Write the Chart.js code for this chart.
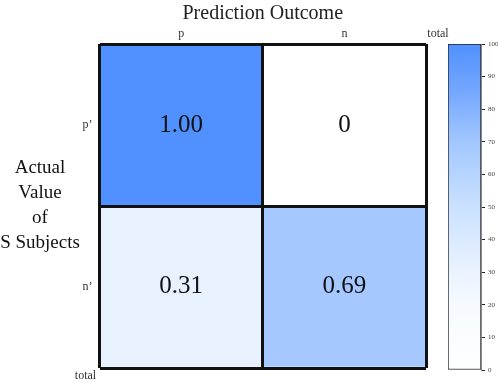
<!DOCTYPE html>
<html>
<head>
<meta charset="utf-8">
<script src="https://cdn.jsdelivr.net/npm/chart.js@4/dist/chart.umd.min.js"></script>
<style>
  html, body { margin: 0; padding: 0; background: #fff; }
  #wrap { position: relative; width: 498px; height: 383px; }
  #wrap canvas { position: absolute; left: 0; top: 0; }
</style>
</head>
<body>
<div id="wrap">
  <canvas id="matrix" width="498" height="383"></canvas>
  <canvas id="colorbar" width="498" height="383"></canvas>
</div>
<script>
// confusion matrix values
const predLabels = ["p", "n"]
const actualLabels = ["p’", "n’"]
const rowP = [1.00, 0]
const rowN = [0.31, 0.69]
const rows = [rowP, rowN]
const cbMin = 0
const cbMax = 100
const cbStep = 10

const FONT = "'Liberation Serif', 'Times New Roman', serif"

// colour map, white -> blue (position, r, g, b)
const cmap = [
  [0.0, 255, 255, 255],
  [0.2, 246, 250, 255],
  [0.3, 234, 243, 255],
  [0.5, 202, 225, 255],
  [0.7, 162, 199, 255],
  [0.85, 118, 168, 255],
  [1.0, 80, 144, 255],
]

function colorFor(v) {
  for (let i = 1; i < cmap.length; i++) {
    const a = cmap[i - 1], b = cmap[i]
    if (v <= b[0]) {
      const t = (v - a[0]) / (b[0] - a[0])
      const c = [1, 2, 3].map((k) => Math.round(a[k] + (b[k] - a[k]) * t))
      return `rgb(${c[0]}, ${c[1]}, ${c[2]})`
    }
  }
  const l = cmap[cmap.length - 1]
  return `rgb(${l[1]}, ${l[2]}, ${l[3]})`
}

function fmt(v) {
  return v === 0 ? "0" : v.toFixed(2)
}

// text that is not tied to an axis: cell values, row title, "total"
const matrixText = {
  id: "matrixText",
  afterDraw(chart) {
    const { ctx, chartArea } = chart
    ctx.save()
    ctx.fillStyle = "#111"
    ctx.textAlign = "center"
    ctx.textBaseline = "middle"
    ctx.font = `25px ${FONT}`
    rows.forEach((row, i) => {
      chart.getDatasetMeta(i).data.forEach((bar, j) => {
        ctx.fillText(fmt(row[j]), bar.x, (bar.y + bar.base) / 2)
      })
    })

    ctx.font = `19px ${FONT}`
    const lines = ["Actual", "Value", "of", "S Subjects"]
    const mid = (chartArea.top + chartArea.bottom) / 2
    lines.forEach((t, k) => {
      ctx.fillText(t, 40, mid + (k - 1.5) * 25)
    })

    ctx.fillStyle = "#333"
    ctx.font = `12px ${FONT}`
    ctx.fillText("total", chartArea.right + 12, chartArea.top - 10)
    ctx.fillText("total", chartArea.left - 14, chartArea.bottom + 8)
    ctx.restore()
  },
}

new Chart(document.getElementById("matrix"), {
  type: "bar",
  data: {
    labels: predLabels,
    datasets: [
      {
        label: actualLabels[0],
        data: rowP.map(() => [1, 2]),
        backgroundColor: rowP.map(colorFor),
      },
      {
        label: actualLabels[1],
        data: rowN.map(() => [0, 1]),
        backgroundColor: rowN.map(colorFor),
      },
    ],
  },
  options: {
    responsive: false,
    animation: false,
    grouped: false,
    barPercentage: 1,
    categoryPercentage: 1,
    borderWidth: 0,
    layout: { padding: { left: 0, right: 72, top: 0, bottom: 15 } },
    plugins: {
      legend: { display: false },
      tooltip: { enabled: false },
    },
    scales: {
      x: {
        position: "top",
        z: 1,
        grid: { z: 1, offset: true, color: "#111", lineWidth: 3, drawTicks: false },
        border: { display: false },
        ticks: { color: "#333", padding: 3, font: { family: FONT, size: 12 } },
        title: {
          display: true,
          text: "Prediction Outcome",
          color: "#222",
          padding: { top: 2, bottom: 0 },
          font: { family: FONT, size: 20 },
        },
        afterFit: (s) => { s.height = 44 },
      },
      y: {
        min: 0,
        max: 2,
        z: 1,
        afterBuildTicks: (s) => {
          s.ticks = [0, 0.5, 1, 1.5, 2].map((v) => ({ value: v }))
        },
        grid: {
          z: 1,
          color: "#111",
          lineWidth: (c) => (c.tick && Number.isInteger(c.tick.value) ? 3 : 0),
          drawTicks: false,
        },
        border: { display: false },
        ticks: {
          color: "#333",
          padding: 7,
          font: { family: FONT, size: 12 },
          callback: (v) => (v === 1.5 ? actualLabels[0] : v === 0.5 ? actualLabels[1] : ""),
        },
        afterFit: (s) => { s.width = 99.5 },
      },
    },
  },
  plugins: [matrixText],
})

// colour bar
new Chart(document.getElementById("colorbar"), {
  type: "bar",
  data: {
    labels: [""],
    datasets: [
      {
        data: [[cbMin, cbMax]],
        backgroundColor: (c) => {
          const chart = c.chart
          const y = chart.scales.y
          if (!chart.chartArea || !y) return "#fff"
          const g = chart.ctx.createLinearGradient(0, y.getPixelForValue(cbMin), 0, y.getPixelForValue(cbMax))
          cmap.forEach((s) => g.addColorStop(s[0], `rgb(${s[1]}, ${s[2]}, ${s[3]})`))
          return g
        },
        borderColor: "#222",
        borderWidth: 1,
        borderSkipped: false,
        barPercentage: 1,
        categoryPercentage: 1,
      },
    ],
  },
  options: {
    responsive: false,
    animation: false,
    layout: { padding: { left: 448, right: 0, top: 44, bottom: 13 } },
    plugins: {
      legend: { display: false },
      tooltip: { enabled: false },
    },
    scales: {
      x: { display: false },
      y: {
        position: "right",
        min: cbMin,
        max: cbMax,
        grid: { drawOnChartArea: false, color: "#222", tickLength: 4 },
        border: { color: "#888" },
        ticks: { stepSize: cbStep, color: "#444", padding: 3, font: { family: FONT, size: 7 } },
        afterFit: (s) => { s.width = 17 },
      },
    },
  },
})
</script>
</body>
</html>
